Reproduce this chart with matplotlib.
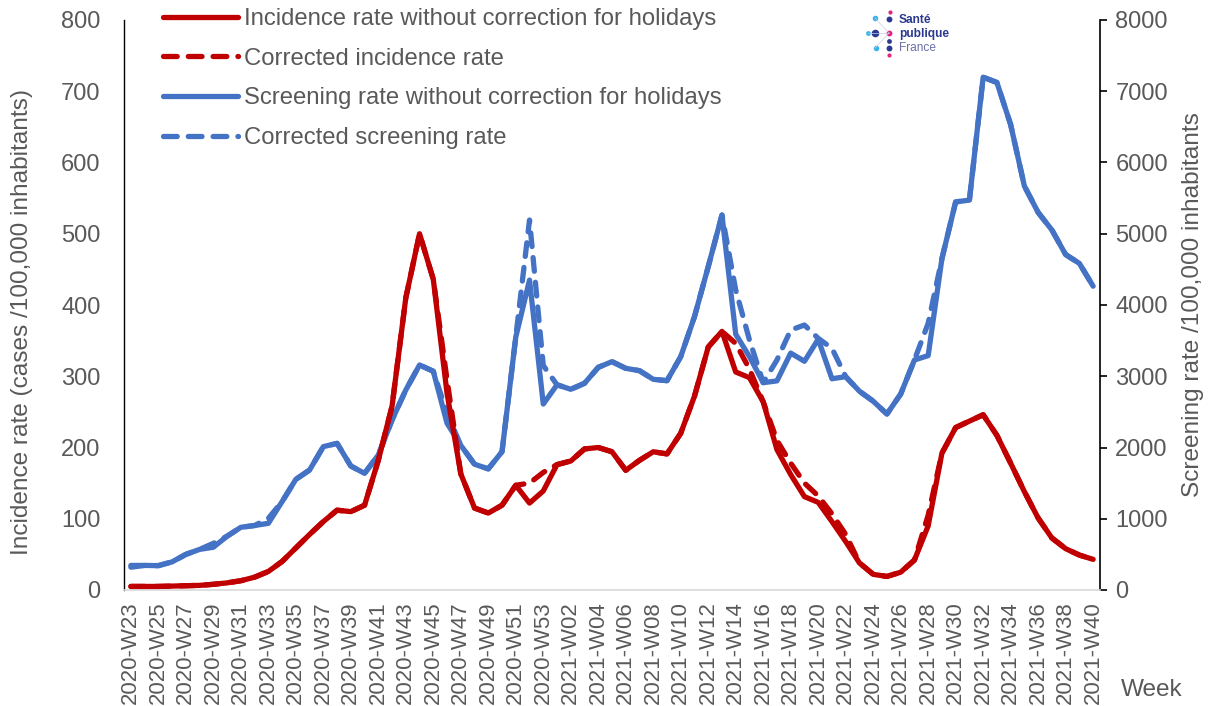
import matplotlib
matplotlib.use("Agg")
import matplotlib.pyplot as plt
import numpy as np

plt.rcParams['font.family'] = ['Liberation Sans', 'DejaVu Sans']

# ---- data ----
weeks = [f"2020-W{w:02d}" for w in range(23, 54)] + [f"2021-W{w:02d}" for w in range(1, 41)]

incidence = [5, 5, 5, 5.5, 6, 6.5, 8, 10, 13, 18, 26, 40, 59, 78, 96, 112, 110, 119, 182, 258,
             410, 500, 436, 276, 163, 115, 108, 119, 147, 122, 139,
             176, 181, 198, 200, 194, 168, 182, 194, 191, 220, 272, 341, 363, 306, 298, 264,
             197, 162, 131, 123, 96, 68, 38, 22, 19, 25, 42, 90, 192, 228, 237, 246, 217, 178,
             138, 101, 73, 58, 49, 43]

incidence_corr = [5, 5, 5, 5.5, 6, 6.5, 8, 10, 13, 18, 26, 40, 59, 78, 96, 112, 110, 119, 182, 258,
                  410, 500, 436, 295, 163, 115, 108, 119, 147, 150, 165,
                  176, 181, 198, 200, 194, 168, 182, 194, 191, 220, 272, 341, 363, 346, 310, 264,
                  210, 178, 150, 132, 107, 78, 38, 22, 19, 25, 42, 105, 192, 228, 237, 246, 217, 178,
                  138, 101, 73, 58, 49, 43]

screening = [345, 345, 342, 395, 500, 570, 600, 755, 880, 905, 936, 1240, 1553, 1684, 2012, 2058,
             1740, 1637, 1895, 2386, 2807, 3158, 3070, 2340, 2030, 1765, 1700, 1941, 3550, 4350, 2610,
             2880, 2817, 2901, 3125, 3205, 3111, 3078, 2957, 2938, 3275, 3836, 4538, 5263, 3590,
             3275, 2910, 2935, 3325, 3210, 3520, 2965, 2994, 2790, 2650, 2470, 2750, 3228, 3290,
             4650, 5447, 5472, 7197, 7123, 6532, 5669, 5299, 5053, 4708, 4584, 4264]

screening_corr = [320, 345, 342, 395, 500, 570, 655, 755, 880, 905, 1006, 1240, 1553, 1684, 2012, 2058,
                  1740, 1637, 1895, 2386, 2807, 3158, 3070, 2480, 2030, 1765, 1700, 1941, 3550, 5193, 3150,
                  2880, 2817, 2901, 3125, 3205, 3111, 3078, 2957, 2938, 3275, 3836, 4538, 5263, 4211,
                  3509, 2910, 3228, 3649, 3719, 3532, 3392, 2994, 2790, 2650, 2470, 2750, 3228, 3743,
                  4650, 5447, 5472, 7197, 7123, 6532, 5669, 5299, 5053, 4708, 4584, 4264]

labels = ["Incidence rate without correction for holidays",
          "Corrected incidence rate",
          "Screening rate without correction for holidays",
          "Corrected screening rate"]

RED = "#C00000"
BLUE = "#4472C4"
GREY = "#595959"
FS_X = 16
FS_Y = 17
FS_LEG = 17.2
FS_LAB = 17.6

W, H = 1213, 706
fig = plt.figure(figsize=(W / 100, H / 100), dpi=100)
L, R, B, T = 124, 1100, 590, 20
ax = fig.add_axes([L / W, 1 - B / H, (R - L) / W, (B - T) / H])
ax2 = ax.twinx()

x = np.arange(len(weeks))
lw = 3.8
dash = (2.6, 2.1)

# blue on right axis (drawn below red)
ax2.plot(x, screening_corr, color=BLUE, lw=lw, ls=(0, dash), dash_capstyle='round', zorder=2)
ax2.plot(x, screening, color=BLUE, lw=lw, solid_capstyle='round', solid_joinstyle='round', zorder=3)

ax.set_zorder(ax2.get_zorder() + 1)
ax.patch.set_visible(False)
ax.plot(x, incidence_corr, color=RED, lw=lw, ls=(0, dash), dash_capstyle='round', zorder=2)
ax.plot(x, incidence, color=RED, lw=lw, solid_capstyle='round', solid_joinstyle='round', zorder=3)

ax.set_xlim(-0.5, len(weeks) - 0.5)
ax.set_ylim(0, 800)
ax2.set_ylim(0, 8000)
ax.set_yticks(np.arange(0, 801, 100))
ax2.set_yticks(np.arange(0, 8001, 1000))
ax.set_xticks(x[::2])
ax.set_xticklabels(weeks[::2], rotation=90)

for a in (ax, ax2):
    for s in a.spines.values():
        s.set_visible(False)
ax.spines['left'].set_visible(True)
ax.spines['left'].set_color('black')
ax.spines['left'].set_linewidth(1)
ax2.spines['right'].set_visible(True)
ax2.spines['right'].set_color('black')
ax2.spines['right'].set_linewidth(1.2)
ax.spines['bottom'].set_visible(True)
ax.spines['bottom'].set_color('#D9D9D9')
ax.spines['bottom'].set_linewidth(1.2)

ax.tick_params(axis='y', length=0, labelsize=FS_Y, labelcolor=GREY, pad=17)
ax.tick_params(axis='x', length=0, labelsize=FS_X, labelcolor=GREY, pad=8)
ax2.tick_params(axis='y', length=5, width=1.2, color='black', labelsize=FS_Y, labelcolor=GREY, pad=6)

ax.set_ylabel("Incidence rate (cases /100,000 inhabitants)", fontsize=FS_LAB, color=GREY)
ax.yaxis.set_label_coords((22 - L) / (R - L), (B - 322) / (B - T), transform=None) if False else None
ax2.set_ylabel("Screening rate /100,000 inhabitants", fontsize=FS_LAB, color=GREY, labelpad=10)
ax.yaxis.set_label_coords((22 - L) / (R - L), (B - 322) / (B - T))
ax.yaxis.label.set_va('center')

fig.text(1183 / W, 1 - 690 / H, "Week", fontsize=FS_LAB, color=GREY, ha='right', va='center')

# legend
from matplotlib.lines import Line2D
handles = [Line2D([], [], color=RED, lw=lw, solid_capstyle='round'),
           Line2D([], [], color=RED, lw=lw, ls=(0, dash), dash_capstyle='round'),
           Line2D([], [], color=BLUE, lw=lw, solid_capstyle='round'),
           Line2D([], [], color=BLUE, lw=lw, ls=(0, dash), dash_capstyle='round')]
leg = fig.legend(handles, labels, loc='upper left', bbox_to_anchor=(163 / W, 1 - 8 / H),
                 frameon=False, fontsize=FS_LEG, handlelength=3.15, handletextpad=0.22,
                 labelspacing=0.74, borderpad=0, borderaxespad=0)
for t in leg.get_texts():
    t.set_color(GREY)

# logo
ov = fig.add_axes([0, 0, 1, 1], zorder=10)
ov.set_xlim(0, W)
ov.set_ylim(H, 0)
ov.axis('off')
ov.patch.set_visible(False)
LB = "#3AB4E8"
DB = "#2B3990"
PK = "#E6237E"
dots = [(890, 11.5, PK, 9), (875, 18, LB, 16), (889, 19, DB, 18), (867.5, 33, LB, 12),
        (875, 33, DB, 30), (889, 33, PK, 18), (889, 41, DB, 12), (875.5, 48, LB, 16),
        (889, 48, DB, 18), (889, 55, PK, 9)]
for (px, py) in [(875, 18), (875, 48), (867.5, 33)]:
    ov.plot([px, 889], [py, 33], color="#C9CCE6", lw=0.5)
for px, py, c, s in dots:
    ov.scatter([px], [py], s=s, color=c, linewidths=0)
ov.text(899, 20, "Santé", fontsize=8.6, color=DB, fontweight='bold', va='center', ha='left')
ov.text(899, 34, "publique", fontsize=8.6, color=DB, fontweight='bold', va='center', ha='left')
ov.text(899, 48, "France", fontsize=8.6, color="#6B6FA8", va='center', ha='left')

fig.savefig("out.png", dpi=100)
